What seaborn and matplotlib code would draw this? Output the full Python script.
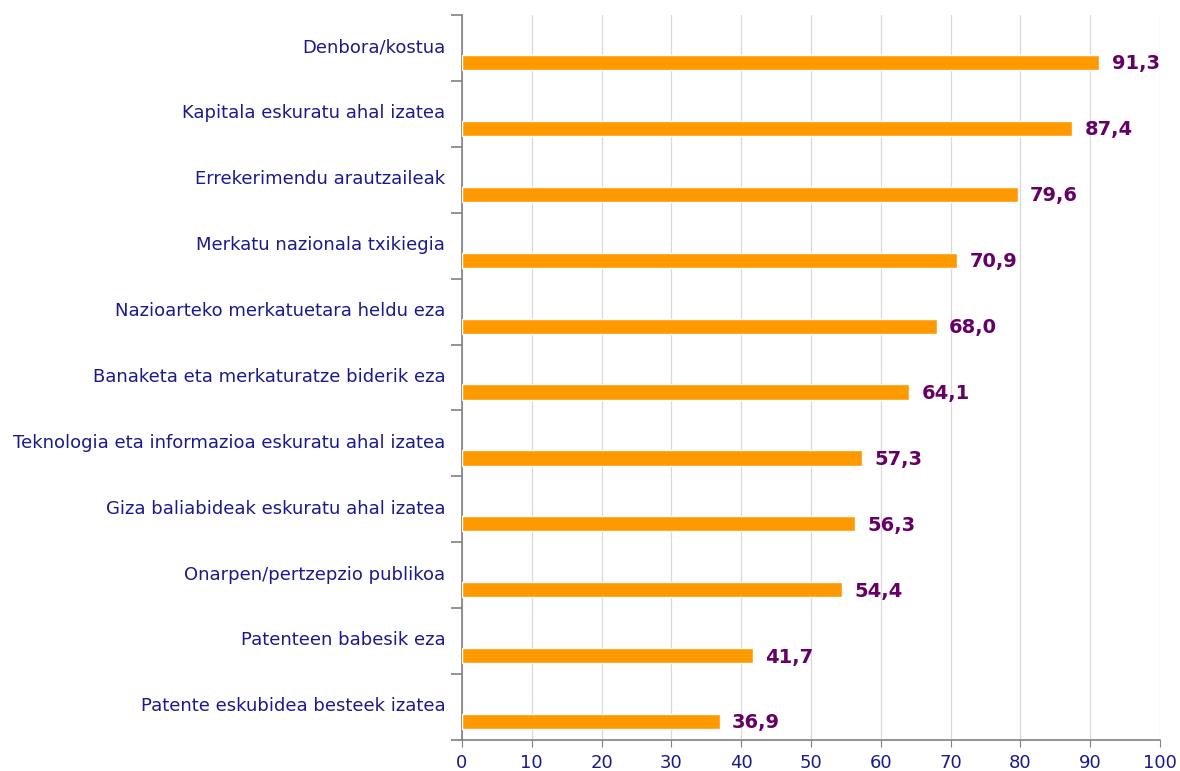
import numpy as np
import pandas as pd
import seaborn as sns
import matplotlib.pyplot as plt

categories = [
    "Denbora/kostua",
    "Kapitala eskuratu ahal izatea",
    "Errekerimendu arautzaileak",
    "Merkatu nazionala txikiegia",
    "Nazioarteko merkatuetara heldu eza",
    "Banaketa eta merkaturatze biderik eza",
    "Teknologia eta informazioa eskuratu ahal izatea",
    "Giza baliabideak eskuratu ahal izatea",
    "Onarpen/pertzepzio publikoa",
    "Patenteen babesik eza",
    "Patente eskubidea besteek izatea",
]
values = [91.3, 87.4, 79.6, 70.9, 68.0, 64.1, 57.3, 56.3, 54.4, 41.7, 36.9]
x_ticks = list(range(0, 101, 10))

df = pd.DataFrame({"cat": categories, "val": values})

sns.set_style("white")
plt.rcParams["font.family"] = ["DejaVu Sans"]

navy = "#1a1a8c"
purple = "#660066"
orange = "#ff9900"

fig = plt.figure(figsize=(11.8, 7.71), dpi=100)
ax = fig.add_axes([0.3915, 0.0402, 0.983 - 0.3915, 0.9805 - 0.0402])

sns.barplot(data=df, x="val", y="cat", orient="h", color=orange,
            width=0.23, saturation=1, ax=ax, zorder=3)

n = len(categories)
ax.set_xlim(0, 100)
ax.set_ylim(n - 1 + 0.28, -0.72)
ax.set_xticks(x_ticks)
ax.set_xticklabels([str(t) for t in x_ticks], color=navy, fontsize=13)
ax.tick_params(axis="x", bottom=True, direction="out", length=5,
               color="#808080", pad=5)

# category labels sit in the band above each bar
ax.set_yticks([])
ax.set_yticks([i - 0.72 for i in range(n + 1)], minor=True)
ax.tick_params(axis="y", which="minor", left=True, direction="out",
               length=8, width=1.2, color="#808080")
for i, c in enumerate(categories):
    ax.annotate(c, xy=(0, i - 0.23), xycoords=("axes fraction", "data"),
                xytext=(-12, 0), textcoords="offset points",
                ha="right", va="center", color=navy, fontsize=13)

for i, v in enumerate(values):
    ax.annotate(f"{v:.1f}".replace(".", ","), xy=(v, i), xytext=(9, -1),
                textcoords="offset points", ha="left", va="center",
                color=purple, fontsize=14, fontweight="bold")

ax.set_xlabel("")
ax.set_ylabel("")
ax.grid(axis="x", color="#d9d9d9", linewidth=0.9, zorder=0)
for s in ["top", "right"]:
    ax.spines[s].set_visible(False)
for s in ["left", "bottom"]:
    ax.spines[s].set_color("#808080")
    ax.spines[s].set_linewidth(1.2)

fig.savefig("out.png", dpi=100)
